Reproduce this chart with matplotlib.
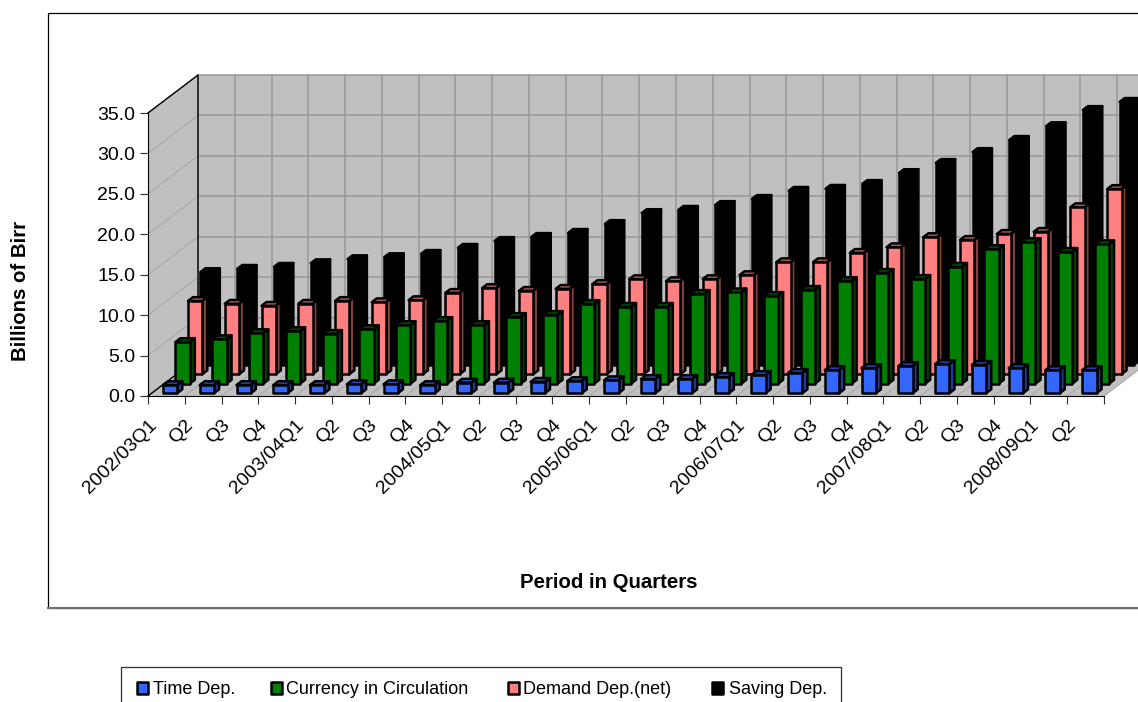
import matplotlib
matplotlib.use("Agg")
import matplotlib.pyplot as plt
from matplotlib.patches import Polygon, FancyBboxPatch
from matplotlib.lines import Line2D

plt.rcParams['font.family'] = ['Liberation Sans', 'DejaVu Sans']

quarters = ['2002/03Q1', 'Q2', 'Q3', 'Q4', '2003/04Q1', 'Q2', 'Q3', 'Q4',
            '2004/05Q1', 'Q2', 'Q3', 'Q4', '2005/06Q1', 'Q2', 'Q3', 'Q4',
            '2006/07Q1', 'Q2', 'Q3', 'Q4', '2007/08Q1', 'Q2', 'Q3', 'Q4',
            '2008/09Q1', 'Q2']

time_dep = [1.0, 1.0, 1.0, 1.0, 1.0, 1.1, 1.1, 1.0, 1.3, 1.3, 1.4, 1.5, 1.6,
            1.75, 1.75, 2.0, 2.25, 2.5, 2.85, 3.1, 3.35, 3.6, 3.5, 3.1, 2.85, 2.85]
currency = [5.15, 5.5, 6.25, 6.5, 6.15, 6.75, 7.25, 7.75, 7.25, 8.25, 8.5, 9.85,
            9.5, 9.5, 11.1, 11.3, 10.85, 11.6, 12.7, 13.7, 12.95, 14.45, 16.65,
            17.5, 16.3, 17.25]
demand_dep = [9.05, 8.7, 8.45, 8.7, 9.05, 8.9, 9.15, 10.05, 10.65, 10.3, 10.55,
              11.15, 11.75, 11.5, 11.75, 12.25, 13.85, 13.85, 15.0, 15.7, 16.95,
              16.6, 17.35, 17.6, 20.65, 22.9]
saving_dep = [11.45, 11.85, 12.1, 12.55, 13.05, 13.3, 13.7, 14.45, 15.3, 15.8,
              16.3, 17.4, 18.75, 19.15, 19.75, 20.5, 21.5, 21.75, 22.35, 23.7,
              24.95, 26.3, 27.8, 29.5, 31.5, 32.5]

series_names = ['Time Dep.', 'Currency in Circulation', 'Demand Dep.(net)', 'Saving Dep.']
series_values = [time_dep, currency, demand_dep, saving_dep]
y_ticks = [0, 5, 10, 15, 20, 25, 30, 35]

WIDTH, HEIGHT = 1138, 702

# oblique projection: one depth row moves a point this far in data units
DEPTH_X = 0.34
DEPTH_Y = 1.175
ROWS = 4
BAR_WIDTH = 0.39
WALL = '#C0C0C0'
GRID = '#989898'
FLOOR_GRID = '#A8A8A8'

# face, side, top colour per series
colors = [('#3366FF', '#1F3D99', '#2B50C8'),
          ('#008000', '#004000', '#005A00'),
          ('#FF8080', '#804040', '#B86060'),
          ('#000000', '#000000', '#000000')]


def project(x, v, d):
    return x + d * DEPTH_X, v + d * DEPTH_Y


def fig_x(px):
    return px / WIDTH


def fig_y(py):
    return 1 - py / HEIGHT


def face(ax, points, fc, ec='black', lw=1.8, z=3):
    ax.add_patch(Polygon(points, closed=True, facecolor=fc, edgecolor=ec, linewidth=lw,
                         joinstyle='round', clip_on=False, zorder=z))


def draw_bar(ax, i, row, value, cols):
    x0 = i + 0.5 - BAR_WIDTH / 2
    x1 = i + 0.5 + BAR_WIDTH / 2
    d0 = row + 0.3
    d1 = row + 0.7
    top = [project(x0, value, d0), project(x1, value, d0),
           project(x1, value, d1), project(x0, value, d1)]
    side = [project(x1, 0, d0), project(x1, value, d0),
            project(x1, value, d1), project(x1, 0, d1)]
    front = [project(x0, 0, d0), project(x1, 0, d0),
             project(x1, value, d0), project(x0, value, d0)]
    face(ax, top, cols[2])
    face(ax, side, cols[1])
    face(ax, front, cols[0])


def draw_walls(ax):
    n = len(quarters)
    ymax = y_ticks[-1]
    face(ax, [project(0, 0, ROWS), project(n, 0, ROWS),
              project(n, ymax, ROWS), project(0, ymax, ROWS)], WALL, ec='none', lw=0, z=1)
    face(ax, [project(0, 0, 0), project(0, 0, ROWS),
              project(0, ymax, ROWS), project(0, ymax, 0)], WALL, ec='none', lw=0, z=1)
    face(ax, [project(0, 0, 0), project(n, 0, 0),
              project(n, 0, ROWS), project(0, 0, ROWS)], WALL, ec='none', lw=0, z=1)

    for v in y_ticks:
        a = project(0, v, 0)
        b = project(0, v, ROWS)
        c = project(n, v, ROWS)
        ax.plot([a[0], b[0]], [a[1], b[1]], color=FLOOR_GRID, lw=0.8, clip_on=False, zorder=2)
        ax.plot([b[0], c[0]], [b[1], c[1]], color=GRID, lw=1.1, clip_on=False, zorder=2)
    for i in range(n + 1):
        a = project(i, 0, 0)
        b = project(i, 0, ROWS)
        c = project(i, ymax, ROWS)
        ax.plot([a[0], b[0]], [a[1], b[1]], color=FLOOR_GRID, lw=0.8, clip_on=False, zorder=2)
        ax.plot([b[0], c[0]], [b[1], c[1]], color=GRID, lw=1.1, clip_on=False, zorder=2)

    # dark corner edges of the box
    a = project(0, ymax, 0)
    b = project(0, ymax, ROWS)
    c = project(0, 0, ROWS)
    d = project(0, 0, 0)
    ax.plot([a[0], b[0], c[0]], [a[1], b[1], c[1]], color='black', lw=1, clip_on=False, zorder=2.5)
    ax.plot([d[0], c[0]], [d[1], c[1]], color='black', lw=1, clip_on=False, zorder=2.5)


fig = plt.figure(figsize=(WIDTH / 100, HEIGHT / 100), dpi=100)

# outer frame, open on the right where it runs off the page
fig.add_artist(Line2D([fig_x(1140), fig_x(48), fig_x(48), fig_x(1140)],
                      [fig_y(13), fig_y(13), fig_y(608), fig_y(608)], color='black', lw=0.9))
fig.add_artist(Line2D([fig_x(48), fig_x(1140)], [fig_y(608), fig_y(608)], color='#707070', lw=1.5))

ax = fig.add_axes([fig_x(148), fig_y(396), (1104 - 148) / WIDTH, (396 - 113) / HEIGHT])
ax.set_xlim(0, len(quarters))
ax.set_ylim(0, y_ticks[-1])
ax.patch.set_visible(False)
for name in ('top', 'right'):
    ax.spines[name].set_visible(False)

draw_walls(ax)
for row in range(ROWS - 1, -1, -1):
    for i, value in enumerate(series_values[row]):
        draw_bar(ax, i, row, value, colors[row])

ax.set_yticks(y_ticks)
ax.set_yticklabels(['%.1f' % v for v in y_ticks], fontsize=14)
ax.set_xticks(range(len(quarters) + 1))
ax.set_xticklabels(quarters + [''], fontsize=14, rotation=45, ha='right', va='top',
                   rotation_mode='anchor')
ax.tick_params(axis='both', length=6, width=0.8, color='#303030')
ax.tick_params(axis='y', pad=3)
ax.tick_params(axis='x', pad=9)

fig.text(fig_x(609), fig_y(583), 'Period in Quarters', fontsize=14.7, fontweight='bold',
         ha='center', va='center')
fig.text(fig_x(21), fig_y(291), 'Billions of Birr', fontsize=14.7, fontweight='bold',
         rotation=90, ha='center', va='center')

# legend box cut off by the bottom of the page
fig.add_artist(Line2D([fig_x(121), fig_x(121), fig_x(841), fig_x(841)],
                      [fig_y(704), fig_y(666.5), fig_y(666.5), fig_y(704)], color='#303030', lw=0.9))
swatch_x = [136, 270, 507, 711]
text_x = [153, 286, 523, 729]
for k in range(len(series_names)):
    fig.add_artist(FancyBboxPatch((fig_x(swatch_x[k] + 0.8), fig_y(693.7)), 11.5 / WIDTH, 11.5 / HEIGHT,
                                  boxstyle='square,pad=0', facecolor=colors[k][0], edgecolor='black',
                                  linewidth=1.8, joinstyle='round', transform=fig.transFigure))
    fig.text(fig_x(text_x[k]), fig_y(694), series_names[k], fontsize=13, ha='left', va='baseline')

fig.savefig('out.png', dpi=100)
